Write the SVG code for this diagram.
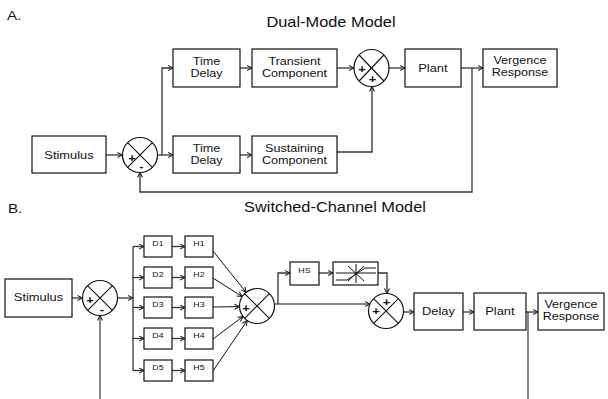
<svg xmlns="http://www.w3.org/2000/svg" width="608" height="399" viewBox="0 0 608 399">
  <defs>
    <marker id="arr" viewBox="0 0 6 6" refX="5.5" refY="3" markerWidth="6" markerHeight="6" markerUnits="userSpaceOnUse" orient="auto">
      <path d="M0.5,0.5 L5.5,3 L0.5,5.5" fill="none" stroke="#222" stroke-width="1.1"/>
    </marker>
  </defs>
  <style>
    .box { fill: #fff; stroke: #111; stroke-width: 1.2; }
    .sum { fill: #fff; stroke: #111; stroke-width: 1.2; }
    .x { stroke: #111; stroke-width: 1.1; fill: none; }
    .wire { fill: none; stroke: #333; stroke-width: 1.3; }
    .thin { fill: none; stroke: #111; stroke-width: 1; }
    .arr { marker-end: url(#arr); }
    text { font-family: "Liberation Sans", Arial, sans-serif; fill: #111; text-anchor: middle;
           transform-box: fill-box; transform-origin: center; transform: scaleX(1.17); }
    .lbl { font-size: 11px; }
    .two { font-size: 10.5px; transform: scaleX(1.2); }
    .small { font-size: 7.5px; }
    .title { font-size: 14px; }
    .tag { font-size: 13px; text-anchor: start; }
    .sign { font-size: 11px; font-weight: bold; }
  </style>

  <!-- panel captions -->
  <text class="tag" x="8" y="20">A.</text>
  <text class="title" x="331" y="27">Dual-Mode Model</text>
  <text class="tag" x="9" y="213">B.</text>
  <text class="title" x="335" y="212">Switched-Channel Model</text>

  <!-- connectors -->
  <g id="connectors">
    <!-- dual-mode model -->
    <path class="wire arr" d="M106,155 H122.5"/>
    <path class="wire arr" d="M157.5,155 H173"/>
    <path class="wire arr" d="M162,155 V68 H173"/>
    <path class="wire arr" d="M240,68 H252"/>
    <path class="wire arr" d="M240,155 H252"/>
    <path class="wire arr" d="M337,68 H354"/>
    <path class="wire arr" d="M337,152 H372 V86.5"/>
    <path class="wire arr" d="M389,68 H405"/>
    <path class="wire arr" d="M461,68 H483"/>
    <path class="wire arr" d="M472,68 V192 H140 V172.5"/>

    <!-- switched-channel model -->
    <path class="wire arr" d="M72,298 H82.5"/>
    <path class="wire arr" d="M117.5,298 H133"/>
    <path class="wire" d="M133,246.5 V370.5"/>
    <path class="wire arr" d="M133,246.5 H144"/>
    <path class="wire arr" d="M133,277.5 H144"/>
    <path class="wire arr" d="M133,307.5 H144"/>
    <path class="wire arr" d="M133,338.5 H144"/>
    <path class="wire arr" d="M133,370.5 H144"/>
    <path class="wire arr" d="M172,246.5 H185"/>
    <path class="wire arr" d="M172,277.5 H185"/>
    <path class="wire arr" d="M172,307.5 H185"/>
    <path class="wire arr" d="M172,338.5 H185"/>
    <path class="wire arr" d="M172,370.5 H185"/>
    <path class="thin arr" d="M213,251 L246.1,292.3"/>
    <path class="thin arr" d="M213,278 L242.2,296.6"/>
    <path class="thin arr" d="M213,307 L239.5,306.6"/>
    <path class="thin arr" d="M213,339 L243,316.5"/>
    <path class="thin arr" d="M213,371 L247.2,320.5"/>
    <path class="thin arr" d="M274.5,304 H370"/>
    <path class="wire arr" d="M278,304 V273 H290"/>
    <path class="wire arr" d="M319,273 H333"/>
    <path class="wire arr" d="M378,273 H387 V293.5"/>
    <path class="wire arr" d="M403.5,312 H414"/>
    <path class="wire arr" d="M463,312 H474"/>
    <path class="wire arr" d="M526,312 H538"/>
    <path class="thin" d="M528,312 V399"/>
    <path class="thin arr" d="M100,399 V315.5"/>
  </g>

  <!-- dual-mode model nodes -->
  <g id="a-stimulus">
    <rect class="box" x="32" y="136" width="74" height="37"/>
    <text class="lbl" x="69" y="159">Stimulus</text>
  </g>
  <g id="a-error-sum">
    <circle class="sum" cx="140" cy="155" r="17.5"/>
    <path class="x" d="M127.6,142.6 L152.4,167.4 M152.4,142.6 L127.6,167.4"/>
    <text class="sign" x="132" y="162">+</text>
    <text class="sign" x="141.5" y="170">-</text>
  </g>
  <g id="a-delay-transient">
    <rect class="box" x="173" y="49" width="67" height="38"/>
    <text class="two" x="206.5" y="65">Time</text>
    <text class="two" x="206.5" y="77">Delay</text>
  </g>
  <g id="a-delay-sustaining">
    <rect class="box" x="173" y="136" width="67" height="37"/>
    <text class="two" x="206.5" y="152.5">Time</text>
    <text class="two" x="206.5" y="164.5">Delay</text>
  </g>
  <g id="a-transient">
    <rect class="box" x="252" y="49" width="85" height="38"/>
    <text class="two" x="294.5" y="65">Transient</text>
    <text class="two" x="294.5" y="77">Component</text>
  </g>
  <g id="a-sustaining">
    <rect class="box" x="252" y="136" width="85" height="37"/>
    <text class="two" x="294.5" y="152.5">Sustaining</text>
    <text class="two" x="294.5" y="164.5">Component</text>
  </g>
  <g id="a-output-sum">
    <ellipse class="sum" cx="371.5" cy="68" rx="17.5" ry="18.5"/>
    <path class="x" d="M359.1,55 L383.9,81 M383.9,55 L359.1,81"/>
    <text class="sign" x="362" y="73">+</text>
    <text class="sign" x="372.5" y="83">+</text>
  </g>
  <g id="a-plant">
    <rect class="box" x="405" y="49" width="56" height="38"/>
    <text class="lbl" x="433" y="72">Plant</text>
  </g>
  <g id="a-response">
    <rect class="box" x="483" y="49" width="74" height="38"/>
    <text class="two" x="520" y="64.5">Vergence</text>
    <text class="two" x="520" y="76.5">Response</text>
  </g>

  <!-- switched-channel model nodes -->
  <g id="b-stimulus">
    <rect class="box" x="5" y="279" width="67" height="38"/>
    <text class="lbl" x="38.5" y="301.5">Stimulus</text>
  </g>
  <g id="b-error-sum">
    <circle class="sum" cx="100" cy="298" r="17.5"/>
    <path class="x" d="M87.6,285.6 L112.4,310.4 M112.4,285.6 L87.6,310.4"/>
    <text class="sign" x="90" y="304">+</text>
    <text class="sign" x="102" y="313">-</text>
  </g>
  <g id="b-d1"><rect class="box" x="144" y="236" width="28" height="21"/><text class="small" x="158" y="246">D1</text></g>
  <g id="b-d2"><rect class="box" x="144" y="267" width="28" height="21"/><text class="small" x="158" y="277">D2</text></g>
  <g id="b-d3"><rect class="box" x="144" y="297" width="28" height="21"/><text class="small" x="158" y="307">D3</text></g>
  <g id="b-d4"><rect class="box" x="144" y="328" width="28" height="21"/><text class="small" x="158" y="338">D4</text></g>
  <g id="b-d5"><rect class="box" x="144" y="360" width="28" height="21"/><text class="small" x="158" y="370">D5</text></g>
  <g id="b-h1"><rect class="box" x="185" y="236" width="28" height="21"/><text class="small" x="199" y="246">H1</text></g>
  <g id="b-h2"><rect class="box" x="185" y="267" width="28" height="21"/><text class="small" x="199" y="277">H2</text></g>
  <g id="b-h3"><rect class="box" x="185" y="297" width="28" height="21"/><text class="small" x="199" y="307">H3</text></g>
  <g id="b-h4"><rect class="box" x="185" y="328" width="28" height="21"/><text class="small" x="199" y="338">H4</text></g>
  <g id="b-h5"><rect class="box" x="185" y="360" width="28" height="21"/><text class="small" x="199" y="370">H5</text></g>
  <g id="b-channel-sum">
    <circle class="sum" cx="257" cy="306" r="17.5"/>
    <path class="x" d="M244.6,293.6 L269.4,318.4 M269.4,293.6 L244.6,318.4"/>
    <text class="sign" x="246" y="312">+</text>
  </g>
  <g id="b-hs">
    <rect class="box" x="290" y="262" width="29" height="23"/>
    <text class="small" x="304.5" y="273">HS</text>
  </g>
  <g id="b-saturation">
    <rect class="box" x="333" y="262" width="45" height="23"/>
    <path class="thin" d="M336,273 H376 M336,280 H347 L365,268 H376"/>
    <path class="thin" d="M348,266 L364,281 M348,281 L364,266 M356,264 V283"/>
  </g>
  <g id="b-output-sum">
    <circle class="sum" cx="386" cy="311" r="17.5"/>
    <path class="x" d="M373.6,298.6 L398.4,323.4 M398.4,298.6 L373.6,323.4"/>
    <text class="sign" x="386.5" y="306">+</text>
    <text class="sign" x="376" y="315">+</text>
  </g>
  <g id="b-delay">
    <rect class="box" x="414" y="293" width="49" height="37"/>
    <text class="lbl" x="438.5" y="315.5">Delay</text>
  </g>
  <g id="b-plant">
    <rect class="box" x="474" y="293" width="52" height="37"/>
    <text class="lbl" x="500" y="315">Plant</text>
  </g>
  <g id="b-response">
    <rect class="box" x="538" y="293" width="66" height="37"/>
    <text class="two" x="571" y="308">Vergence</text>
    <text class="two" x="571" y="320">Response</text>
  </g>
</svg>
